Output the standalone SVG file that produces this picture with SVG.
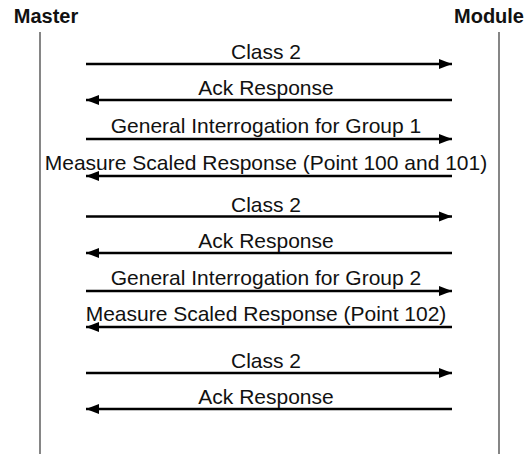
<svg xmlns="http://www.w3.org/2000/svg" width="527" height="454" viewBox="0 0 527 454">
<style>
.lbl{font-family:"Liberation Sans",Arial,sans-serif;font-size:21px;fill:#111;text-anchor:middle}
.hdr{font-family:"Liberation Sans",Arial,sans-serif;font-size:20px;font-weight:bold;fill:#111;text-anchor:middle}
.life{stroke:#444;stroke-width:1.3;fill:none}
.msg{stroke:#000;stroke-width:2.5;fill:none}
</style>
<defs>
<marker id="ah" markerUnits="userSpaceOnUse" markerWidth="14" markerHeight="11" refX="13" refY="5.5" orient="auto">
<path d="M0,0.5 L13,5.5 L0,10.5 z" fill="#000"/>
</marker>
</defs>
<rect width="527" height="454" fill="#fff"/>
<g id="master">
<text class="hdr" x="46" y="23">Master</text>
<line class="life" x1="40" y1="32" x2="40" y2="454"/>
</g>
<g id="module">
<text class="hdr" x="489" y="23">Module</text>
<line class="life" x1="499" y1="32" x2="499" y2="454"/>
</g>
<g id="connectors">
<line class="msg" x1="86" y1="64" x2="452" y2="64" marker-end="url(#ah)"/>
<line class="msg" x1="452" y1="100" x2="86" y2="100" marker-end="url(#ah)"/>
<line class="msg" x1="86" y1="139" x2="452" y2="139" marker-end="url(#ah)"/>
<line class="msg" x1="452" y1="176" x2="86" y2="176" marker-end="url(#ah)"/>
<line class="msg" x1="86" y1="216.5" x2="452" y2="216.5" marker-end="url(#ah)"/>
<line class="msg" x1="452" y1="253" x2="86" y2="253" marker-end="url(#ah)"/>
<line class="msg" x1="86" y1="291" x2="452" y2="291" marker-end="url(#ah)"/>
<line class="msg" x1="452" y1="327" x2="86" y2="327" marker-end="url(#ah)"/>
<line class="msg" x1="86" y1="373" x2="452" y2="373" marker-end="url(#ah)"/>
<line class="msg" x1="452" y1="409" x2="86" y2="409" marker-end="url(#ah)"/>
</g>
<g id="labels">
<text class="lbl" x="266" y="59">Class 2</text>
<text class="lbl" x="266" y="95">Ack Response</text>
<text class="lbl" x="266" y="133">General Interrogation for Group 1</text>
<text class="lbl" x="266" y="170">Measure Scaled Response (Point 100 and 101)</text>
<text class="lbl" x="266" y="211.5">Class 2</text>
<text class="lbl" x="266" y="248">Ack Response</text>
<text class="lbl" x="266" y="285">General Interrogation for Group 2</text>
<text class="lbl" x="266" y="321">Measure Scaled Response (Point 102)</text>
<text class="lbl" x="266" y="368">Class 2</text>
<text class="lbl" x="266" y="404">Ack Response</text>
</g>
</svg>
